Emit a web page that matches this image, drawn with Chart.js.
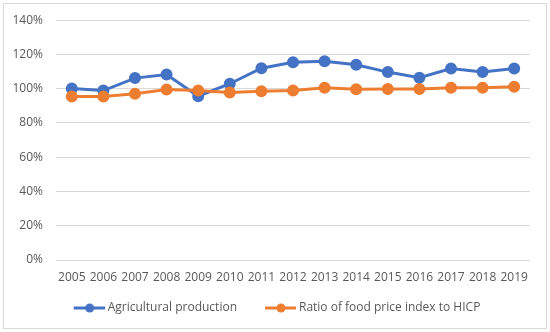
<!DOCTYPE html>
<html>
<head>
<meta charset="utf-8">
<script src="https://cdn.jsdelivr.net/npm/chart.js@4/dist/chart.umd.min.js"></script>
<style>
  html, body { margin: 0; padding: 0; background: #fff; }
  .wrap { position: relative; width: 550px; height: 332px; }
  .frame { position: absolute; left: 3px; top: 3px; width: 544px; height: 326px;
           box-sizing: border-box; border: 1px solid #d9d9d9; pointer-events: none; }
</style>
</head>
<body>
<div class="wrap"><canvas id="chart"></canvas><div class="frame"></div></div>
<script>
// values (percent)
const years = ['2005', '2006', '2007', '2008', '2009', '2010', '2011', '2012', '2013', '2014', '2015', '2016', '2017', '2018', '2019'];
const agricultural = [100.1, 98.9, 106.2, 108.3, 95.6, 102.9, 112.0, 115.4, 116.1, 114.0, 109.7, 106.4, 111.8, 109.7, 111.8];
const foodRatio = [95.4, 95.4, 97.0, 99.5, 98.9, 97.8, 98.5, 98.9, 100.5, 99.7, 99.9, 99.9, 100.5, 100.5, 101.1];

const BLUE = '#4472C4';
const ORANGE = '#ED7D31';

// legend marker: short line with a dot, with some empty room on the left
function legendMarker(color) {
  const c = document.createElement('canvas');
  c.width = 58; c.height = 12;
  const ctx = c.getContext('2d');
  ctx.strokeStyle = color;
  ctx.lineWidth = 3;
  ctx.beginPath();
  ctx.moveTo(27, 6);
  ctx.lineTo(58, 6);
  ctx.stroke();
  ctx.fillStyle = color;
  ctx.beginPath();
  ctx.arc(43, 6, 4.5, 0, Math.PI * 2);
  ctx.fill();
  return c;
}

const data = {
  labels: years,
  datasets: [
    {
      label: 'Agricultural production',
      data: agricultural,
      borderColor: BLUE,
      backgroundColor: BLUE,
      borderWidth: 3,
      pointRadius: 4.5,
      pointHoverRadius: 4.5,
      order: 1
    },
    {
      label: 'Ratio of food price index to HICP',
      data: foodRatio,
      borderColor: ORANGE,
      backgroundColor: ORANGE,
      borderWidth: 3,
      pointRadius: 4.5,
      pointHoverRadius: 4.5,
      order: 0
    }
  ]
};

Chart.defaults.font.family = '"Open Sans", "Liberation Sans", sans-serif';
Chart.defaults.font.size = 12;
Chart.defaults.color = '#595959';

const chart = new Chart(document.getElementById('chart'), {
  type: 'line',
  data: data,
  options: {
    responsive: true,
    maintainAspectRatio: false,
    animation: false,
    layout: { padding: { left: 0, right: 20, top: 20, bottom: 8 } },
    plugins: {
      tooltip: { enabled: false },
      legend: {
        position: 'bottom',
        labels: {
          usePointStyle: true,
          pointStyleWidth: 52,
          boxHeight: 12,
          padding: 4,
          generateLabels: (ch) => ch.data.datasets.map((ds, i) => ({
            text: ds.label,
            pointStyle: legendMarker(ds.borderColor),
            fillStyle: ds.borderColor,
            strokeStyle: ds.borderColor,
            lineWidth: 0,
            fontColor: '#595959',
            datasetIndex: i
          }))
        }
      }
    },
    scales: {
      x: {
        offset: true,
        afterFit: (scale) => { scale.height = 38; },
        grid: { display: false, drawTicks: false },
        border: { display: false },
        ticks: { padding: 10, maxRotation: 0, autoSkip: false }
      },
      y: {
        min: 0,
        max: 140,
        afterFit: (scale) => { scale.width = 56; },
        grid: { color: '#d9d9d9', lineWidth: 1, drawTicks: false },
        border: { display: false },
        ticks: {
          stepSize: 20,
          padding: 13,
          callback: (v) => v + '%'
        }
      }
    }
  }
});
</script>
</body>
</html>
